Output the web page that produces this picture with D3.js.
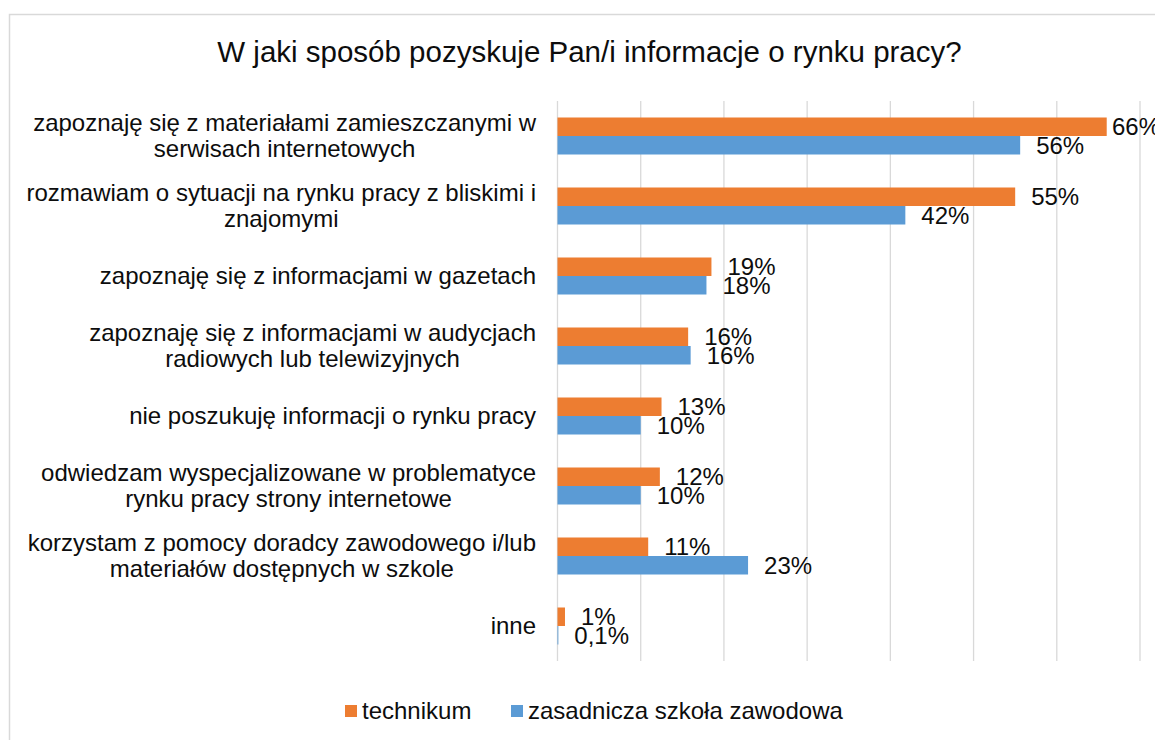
<!DOCTYPE html>
<html>
<head>
<meta charset="utf-8">
<script src="https://cdn.jsdelivr.net/npm/d3@7"></script>
<style>
  body { margin: 0; background: #fff; }
  svg text { font-family: "Liberation Sans", Arial, sans-serif; fill: #0d0d0d; }
</style>
</head>
<body>
<div id="chart"></div>
<script>
var TITLE = 'W jaki sposób pozyskuje Pan/i informacje o rynku pracy?';

// category labels, already broken into lines as in the picture
var categories = [
	['zapoznaję się z materiałami zamieszczanymi w', 'serwisach internetowych'],
	['rozmawiam o sytuacji na rynku pracy z bliskimi i', 'znajomymi'],
	['zapoznaję się z informacjami w gazetach'],
	['zapoznaję się z informacjami w audycjach', 'radiowych lub telewizyjnych'],
	['nie poszukuję informacji o rynku pracy'],
	['odwiedzam wyspecjalizowane w problematyce', 'rynku pracy strony internetowe'],
	['korzystam z pomocy doradcy zawodowego i/lub', 'materiałów dostępnych w szkole'],
	['inne']
];

var seriesNames = ['technikum', 'zasadnicza szkoła zawodowa'];
var seriesColors = ['#ED7D31', '#5B9BD5'];

var technikum = [66.0, 55.0, 18.5, 15.7, 12.5, 12.3, 10.9, 0.9];
var zasadnicza = [55.6, 41.8, 17.9, 16.0, 10.0, 10.0, 22.9, 0.1];

var technikumLabels = ['66%', '55%', '19%', '16%', '13%', '12%', '11%', '1%'];
var zasadniczaLabels = ['56%', '42%', '18%', '16%', '10%', '10%', '23%', '0,1%'];

var xTicks = [0, 10, 20, 30, 40, 50, 60, 70];

var width = 1155, height = 740;
var plot = {left: 557.5, right: 1140, top: 101, bottom: 661};
var chartRight = 1160;
var FONT = '24px';

var svg = d3.select('#chart').append('svg')
	.attr('width', width)
	.attr('height', height);

// chart frame (right and bottom edges fall outside the picture)
svg.append('rect')
	.attr('x', 9.5).attr('y', 14.5)
	.attr('width', 1170).attr('height', 760)
	.attr('fill', '#fff')
	.attr('stroke', '#d9d9d9')
	.attr('stroke-width', 1.5);

svg.append('text')
	.attr('x', 589.5).attr('y', 51.5)
	.attr('dy', '0.35em')
	.attr('text-anchor', 'middle')
	.style('font-size', '29.5px')
	.text(TITLE);

var x = d3.scaleLinear()
	.domain([0, 70])
	.range([plot.left, plot.right]);

var y0 = d3.scaleBand()
	.domain(d3.range(categories.length))
	.range([plot.top, plot.bottom])
	.padding(0);

var y1 = d3.scaleBand()
	.domain([0, 1])
	.range([0, y0.bandwidth()])
	.paddingInner(0)
	.paddingOuter(0.892);

// gridlines
svg.append('g').selectAll('line')
	.data(xTicks)
	.enter().append('line')
	.attr('x1', function(d) { return x(d); })
	.attr('x2', function(d) { return x(d); })
	.attr('y1', plot.top)
	.attr('y2', plot.bottom)
	.attr('stroke', '#d9d9d9')
	.attr('stroke-width', 1.3);

// category labels: block right-aligned, lines centred inside the block
var catG = svg.append('g').selectAll('g')
	.data(categories)
	.enter().append('g')
	.attr('transform', function(d, i) { return 'translate(0,' + (y0(i) + y0.bandwidth() / 2) + ')'; });

catG.each(function(lines) {
	var g = d3.select(this);
	var texts = g.selectAll('text')
		.data(lines)
		.enter().append('text')
		.attr('text-anchor', 'middle')
		.attr('dy', '0.35em')
		.attr('y', function(d, j) { return (j - (lines.length - 1) / 2) * 26; })
		.style('font-size', FONT)
		.text(function(d) { return d; });
	var maxW = 0;
	texts.each(function() { maxW = Math.max(maxW, this.getComputedTextLength()); });
	texts.attr('x', 536 - maxW / 2);
});

var series = [
	{values: technikum, labels: technikumLabels},
	{values: zasadnicza, labels: zasadniczaLabels}
];

series.forEach(function(s, k) {
	var g = svg.append('g');
	g.selectAll('rect')
		.data(s.values)
		.enter().append('rect')
		.attr('x', x(0))
		.attr('y', function(d, i) { return y0(i) + y1(k); })
		.attr('width', function(d) { return x(d) - x(0); })
		.attr('height', y1.bandwidth())
		.attr('fill', seriesColors[k]);

	g.selectAll('text')
		.data(s.values)
		.enter().append('text')
		.attr('y', function(d, i) { return y0(i) + y1(k) + y1.bandwidth() / 2; })
		.attr('dy', '0.35em')
		.style('font-size', FONT)
		.text(function(d, i) { return s.labels[i]; })
		.attr('x', function(d) {
			var w = this.getComputedTextLength();
			return Math.min(x(d) + 16, chartRight - w);
		});
});

// legend
var legend = svg.append('g');
var legendX = [345, 511];
seriesNames.forEach(function(name, k) {
	legend.append('rect')
		.attr('x', legendX[k]).attr('y', 705)
		.attr('width', 12).attr('height', 12)
		.attr('fill', seriesColors[k]);
	legend.append('text')
		.attr('x', legendX[k] + 17).attr('y', 711)
		.attr('dy', '0.35em')
		.style('font-size', FONT)
		.text(name);
});
</script>
</body>
</html>
